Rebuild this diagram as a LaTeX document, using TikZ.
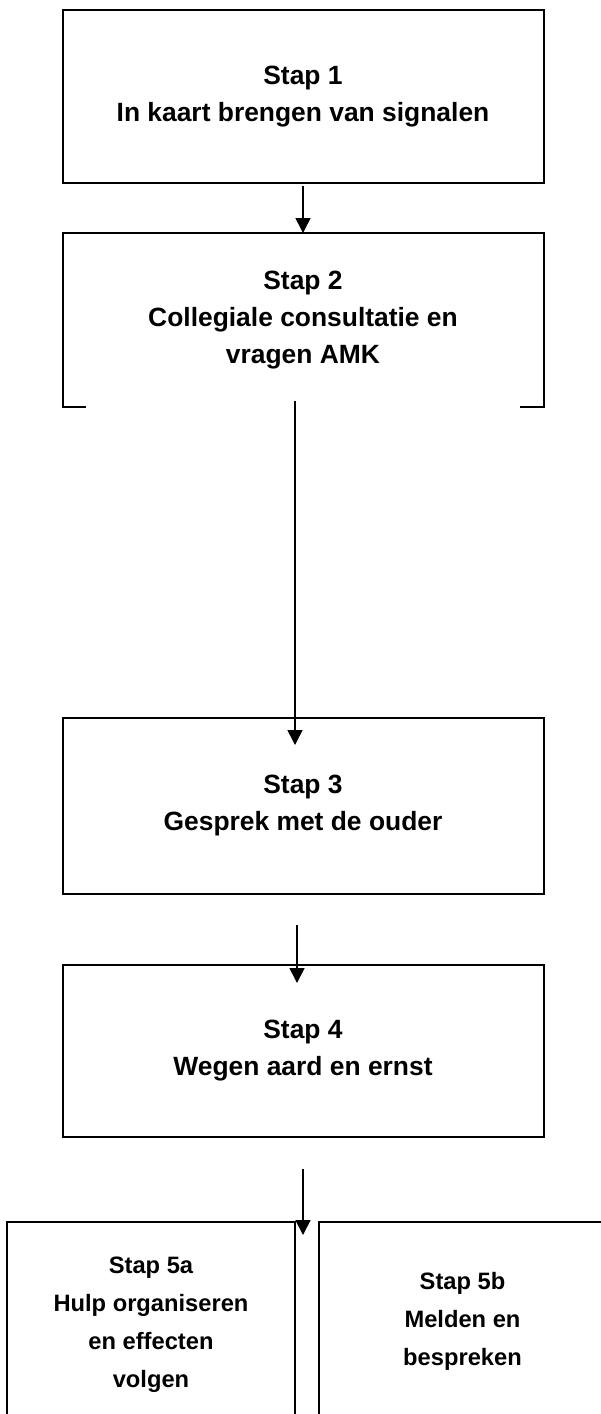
\documentclass[tikz,border=0pt]{standalone}
\usepackage{fontspec}
\setmainfont{Liberation Sans}
\usetikzlibrary{arrows.meta,positioning,calc}
\tikzset{
    stapbox/.style={draw, line width=2pt, outer sep=0pt, minimum width=481pt, align=center, font=\bfseries\fontsize{26.4}{37}\selectfont},
    smallbox/.style={stapbox, minimum width=288pt, font=\bfseries\fontsize{23.7}{38}\selectfont},
    flow/.style={-{Triangle[length=15pt, width=15pt]}, line width=1.6pt},
    openside/.style={line width=2pt}
}

\begin{document}
\begin{tikzpicture}[x=1pt, y=-1pt]
    \useasboundingbox (0,0) rectangle (601,1414);
    \clip (0,0) rectangle (601,1414);
    \node[stapbox, minimum height=173pt] (b1) at (303,96.5) {Stap 1\\In kaart brengen van signalen};
    \node[stapbox, draw=none, minimum height=174pt, below=50pt of b1] (b2) {Stap 2\\Collegiale consultatie en\\vragen AMK};
    \node[stapbox, minimum height=176pt, below=311pt of b2] (b3) {Stap 3\\Gesprek met de ouder};
    \node[stapbox, minimum height=172pt, below=71pt of b3] (b4) {Stap 4\\Wegen aard en ernst};
    \node[smallbox, minimum height=206pt, below left=85pt and 8pt of b4.south] (b5a) {Stap 5a\\Hulp organiseren\\en effecten\\volgen};
    \node[smallbox, minimum width=287pt, minimum height=198pt, below right=85pt and 16pt of b4.south] (b5b) {Stap 5b\\Melden en\\bespreken};

    % box 2 keeps only the corners of its bottom edge
    \draw[openside] ([xshift=23pt]b2.south west) -- (b2.south west) -- (b2.north west) -- (b2.north east) -- (b2.south east) -- ([xshift=-24pt]b2.south east);

    \draw[flow] ([yshift=-3pt]b1.south) -- (b2.north);
    \draw[flow] ([xshift=-8pt, yshift=6pt]b2.south) -- ([xshift=-8pt, yshift=-27pt]b3.north);
    \draw[flow] ([xshift=-6pt, yshift=-31pt]b3.south) -- ([xshift=-6pt, yshift=-18pt]b4.north);
    \draw[flow] ([yshift=-32pt]b4.south) -- ($(b4.south |- b5a.north)+(0,13)$);
\end{tikzpicture}
\end{document}
